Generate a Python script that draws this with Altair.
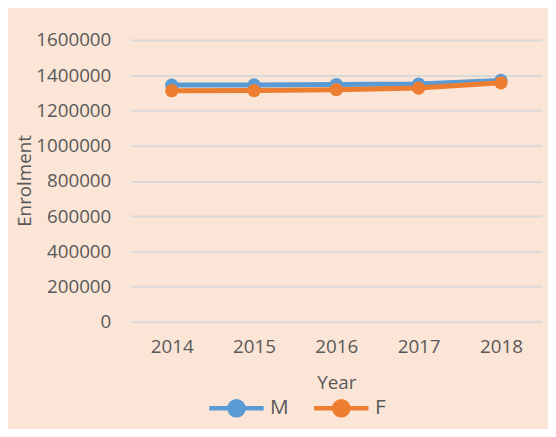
import altair as alt
import pandas as pd

years = ["2014", "2015", "2016", "2017", "2018"]
male = [1344000, 1345000, 1347000, 1350000, 1370000]
female = [1312000, 1313000, 1318000, 1327000, 1357000]
series = ["M", "F"]
colors = ["#5B9BD5", "#ED7D31"]
y_ticks = [0, 200000, 400000, 600000, 800000, 1000000, 1200000, 1400000, 1600000]

rows = []
for i, y in enumerate(years):
    rows.append({"Year": y, "Gender": "M", "Enrolment": male[i], "order": 0})
for i, y in enumerate(years):
    rows.append({"Year": y, "Gender": "F", "Enrolment": female[i], "order": 1})
df = pd.DataFrame(rows)

FONT = "Open Sans"
TXT = "#595959"

sym = "M-1,0L1,0M0.26,0A0.26,0.26,0,1,1,-0.26,0A0.26,0.26,0,1,1,0.26,0Z"

x_enc = alt.X("Year:N", sort=years, scale=alt.Scale(paddingInner=0, paddingOuter=0.5),
              axis=alt.Axis(title="Year", labelAngle=0, domain=False, ticks=False,
                            labelPadding=16, titleY=61, titleBaseline="middle",
                            titleFontWeight="normal"))
y_enc = alt.Y("Enrolment:Q", scale=alt.Scale(domain=[0, 1600000]),
              axis=alt.Axis(title="Enrolment", values=y_ticks, format="d",
                            domain=False, ticks=False, labelPadding=20,
                            titleX=-107, titleY=142, titleAngle=270,
                            titleAlign="center", titleBaseline="middle",
                            titleFontWeight="normal"))

legend = alt.Legend(title=None, orient="none", direction="horizontal",
                    legendX=77, legendY=342, symbolType=sym, symbolSize=3025,
                    symbolStrokeWidth=4.5, labelOffset=4, columnPadding=16,
                    labelFontSize=21, labelColor=TXT, labelFont=FONT)

lines = alt.Chart(df).mark_line(strokeWidth=5).encode(
    x=x_enc, y=y_enc,
    stroke=alt.Stroke("Gender:N", scale=alt.Scale(domain=series, range=colors), legend=legend),
    order="order:Q",
)
points = alt.Chart(df).mark_point(filled=True, size=180, opacity=1).encode(
    x=x_enc, y=y_enc,
    fill=alt.Fill("Gender:N", scale=alt.Scale(domain=series, range=colors), legend=legend),
    order="order:Q",
)

chart = alt.layer(lines, points).properties(
    width=416, height=285,
    autosize=alt.AutoSizeParams(type="none"),
    padding={"left": 124, "top": 30, "right": 6, "bottom": 106},
    background="#FBE5D6",
).configure_view(stroke=None).configure_axis(
    labelFont=FONT, labelFontSize=19, labelColor=TXT,
    titleFont=FONT, titleFontSize=19, titleColor=TXT,
    gridColor="#D9D9D9", gridWidth=2,
).configure_axisX(grid=False)

chart.save("out.html", embed_options={"renderer": "svg", "actions": False})
